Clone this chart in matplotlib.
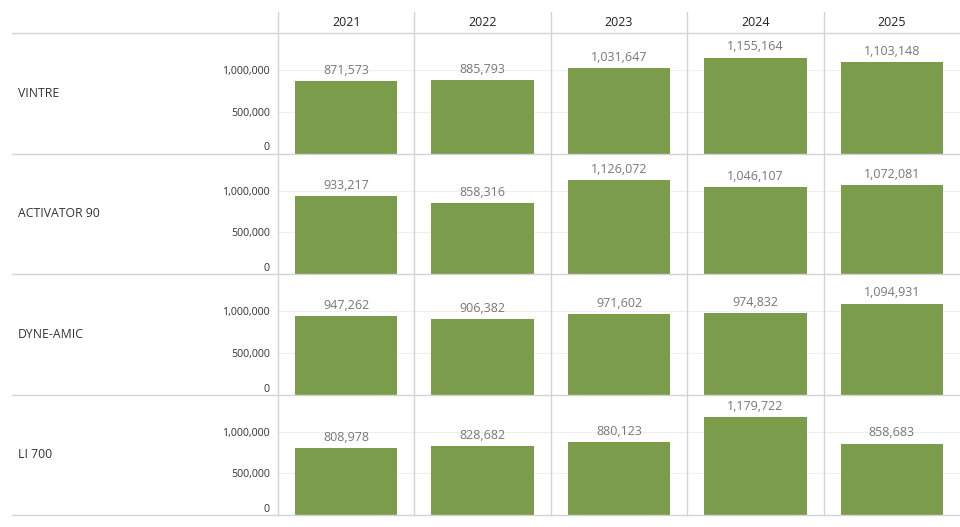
import matplotlib.pyplot as plt
from matplotlib.lines import Line2D

plt.rcParams['font.family'] = ['Open Sans', 'DejaVu Sans']

# data
years = ['2021', '2022', '2023', '2024', '2025']
products = ['VINTRE', 'ACTIVATOR 90', 'DYNE-AMIC', 'LI 700']
vintre = [871573, 885793, 1031647, 1155164, 1103148]
activator_90 = [933217, 858316, 1126072, 1046107, 1072081]
dyne_amic = [947262, 906382, 971602, 974832, 1094931]
li_700 = [808978, 828682, 880123, 1179722, 858683]
values = [vintre, activator_90, dyne_amic, li_700]

yticks = [0, 500000, 1000000]

W, H = 960, 527
fig = plt.figure(figsize=(W / 100, H / 100), dpi=100)

bar_color = '#7A9C4B'
line_color = '#D4D4D4'

# pixel layout
col_left = 278
col_w = (960 - col_left) / 5
row_top = [33, 153.5, 274, 394.5]
row_h = 120.5


def fx(px):
    return px / W


def fy(py):
    return 1 - py / H


for r, prod in enumerate(products):
    for c, yr in enumerate(years):
        left = col_left + c * col_w
        top = row_top[r]
        ax = fig.add_axes([fx(left), fy(top + row_h), col_w / W, row_h / H])
        v = values[r][c]
        ax.bar([0], [v], width=0.75, color=bar_color, zorder=2)
        ax.annotate(f'{v:,}', xy=(0, v), xytext=(0, 3), textcoords='offset points',
                    ha='center', va='bottom', fontsize=9, color='#777777', zorder=3)
        ax.set_xlim(-0.5, 0.5)
        ax.set_ylim(0, 1450000)
        ax.set_xticks([])
        ax.set_yticks(yticks)
        for t in yticks[1:]:
            ax.axhline(t, color='#EFEFEF', lw=0.8, zorder=1)
        for s in ax.spines.values():
            s.set_visible(False)
        ax.patch.set_alpha(0)
        if c == 0:
            ax.set_yticklabels([f'{t:,}' for t in yticks], fontsize=7.7, color='#333333')
            ax.tick_params(axis='y', length=0, pad=6)
            # keep the zero label inside the panel
            ax.get_yticklabels()[0].set_verticalalignment('bottom')
        else:
            ax.set_yticklabels([])
            ax.tick_params(axis='y', length=0)

    fig.text(fx(18), fy(row_top[r] + row_h / 2), prod, ha='left', va='center',
             fontsize=8.8, color='#333333')

# header year labels
for c, yr in enumerate(years):
    fig.text(fx(col_left + (c + 0.5) * col_w), fy(22), yr, ha='center', va='center',
             fontsize=9, color='#222222')

# grid separator lines
hlines = [33] + [t + row_h for t in row_top]
for y in hlines:
    fig.add_artist(Line2D([fx(12), fx(960)], [fy(y), fy(y)], color=line_color, lw=1))
for c in range(5):
    x = col_left + c * col_w
    fig.add_artist(Line2D([fx(x), fx(x)], [fy(12), fy(515)], color=line_color, lw=1))

plt.savefig('out.png', dpi=100)
